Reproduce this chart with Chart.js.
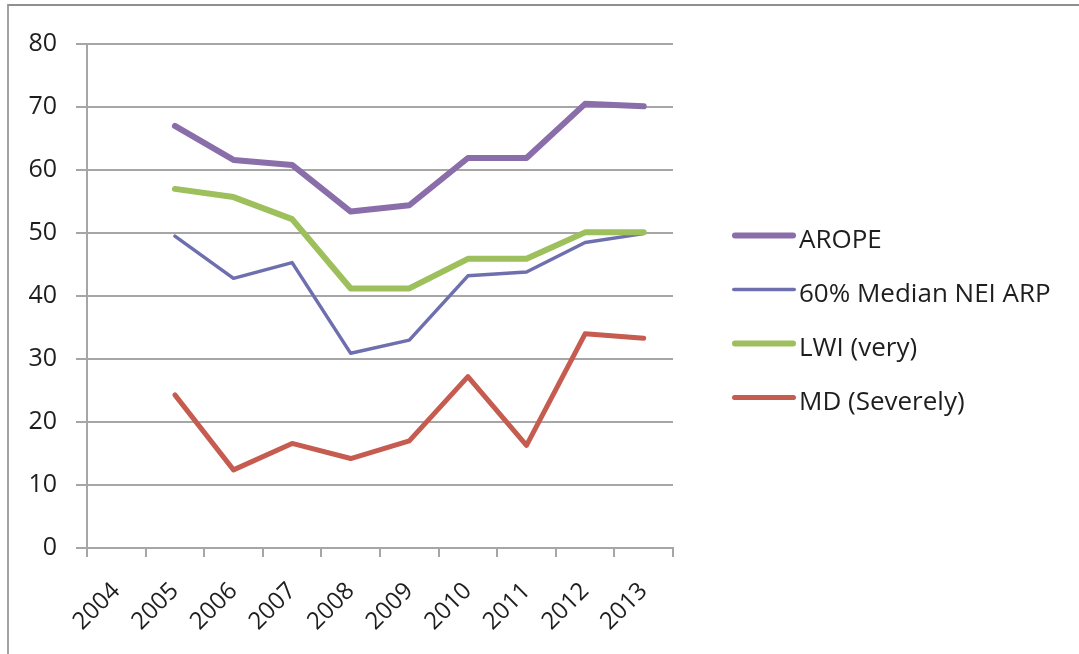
<!DOCTYPE html>
<html>
<head>
<meta charset="utf-8">
<script src="https://cdn.jsdelivr.net/npm/chart.js@4.4.1/dist/chart.umd.min.js"></script>
<style>
  html, body { margin: 0; padding: 0; background: #ffffff; overflow: hidden; }
  #frame {
    position: absolute; left: 7px; top: 4px; width: 1200px; height: 800px;
    border-top: 2px solid #8f8f8f; border-left: 2px solid #a3a3a3;
  }
  #wrap { position: absolute; left: 0; top: 0; width: 1079px; height: 654px; }
</style>
</head>
<body>
<div id="frame"></div>
<div id="wrap"><canvas id="chart" width="1079" height="654"></canvas></div>
<script>
// Years on the category axis (2004 has no observations)
const years = ['2004', '2005', '2006', '2007', '2008', '2009', '2010', '2011', '2012', '2013'];

// Series values, in %
const arope     = [null, 67.0, 61.6, 60.8, 53.4, 54.4, 61.9, 61.9, 70.5, 70.1];
const medianArp = [null, 49.5, 42.8, 45.3, 30.9, 33.0, 43.2, 43.8, 48.5, 49.9];
const lwiVery   = [null, 57.0, 55.7, 52.2, 41.2, 41.2, 45.9, 45.9, 50.1, 50.1];
const mdSevere  = [null, 24.3, 12.4, 16.6, 14.2, 17.0, 27.2, 16.3, 34.0, 33.3];

// Value axis ticks
const yTicks = [0, 10, 20, 30, 40, 50, 60, 70, 80];

const FONT = '"Open Sans", "DejaVu Sans", sans-serif';
const TEXT = '#1e1e1e';
const GRID = '#a6a6a6';

// Legend drawn to the right of the plot: a short line sample followed by the series name
const sideLegend = {
  id: 'sideLegend',
  afterDraw(chart) {
    const { ctx, chartArea } = chart;
    const sets = chart.data.datasets;
    const x0 = chartArea.right + 59;
    const sampleLen = 64;
    const rowGap = 54;
    const midY = (chartArea.top + chartArea.bottom) / 2 + 20.5;
    ctx.save();
    ctx.font = '26px ' + FONT;
    ctx.textBaseline = 'alphabetic';
    ctx.textAlign = 'left';
    sets.forEach((ds, i) => {
      const y = midY + (i - (sets.length - 1) / 2) * rowGap;
      ctx.beginPath();
      ctx.lineCap = 'round';
      ctx.strokeStyle = ds.borderColor;
      ctx.lineWidth = ds.borderWidth;
      ctx.moveTo(x0 + ds.borderWidth / 2, y);
      ctx.lineTo(x0 + sampleLen - ds.borderWidth / 2, y);
      ctx.stroke();
      ctx.fillStyle = TEXT;
      ctx.fillText(ds.label, x0 + sampleLen + 3, y + 12);
    });
    ctx.restore();
  }
};

function series(label, data, color, width, order) {
  return {
    label, data,
    borderColor: color,
    backgroundColor: color,
    borderWidth: width,
    borderCapStyle: 'round',
    borderJoinStyle: 'round',
    pointRadius: 0,
    pointHoverRadius: 0,
    tension: 0,
    spanGaps: false,
    order
  };
}

new Chart(document.getElementById('chart'), {
  type: 'line',
  data: {
    labels: years,
    datasets: [
      series('AROPE', arope, '#8a6eaa', 6, 3),
      series('60% Median NEI ARP', medianArp, '#6e6fae', 3.5, 2),
      series('LWI (very)', lwiVery, '#9dbf5c', 6, 1),
      series('MD (Severely)', mdSevere, '#c65b50', 5, 0)
    ]
  },
  options: {
    responsive: false,
    devicePixelRatio: 1,
    animation: false,
    layout: { padding: { left: 28, top: 44, right: 406, bottom: 0 } },
    plugins: {
      legend: { display: false },
      tooltip: { enabled: false }
    },
    scales: {
      x: {
        type: 'category',
        offset: true,
        afterFit(scale) {
          // rotated labels hang below the axis only; keep the plot edges fixed
          scale.paddingLeft = 0;
          scale.paddingRight = 0;
          scale.height = 106;
        },
        grid: {
          offset: true,
          drawOnChartArea: false,
          drawTicks: true,
          tickLength: 9,
          color: GRID,
          lineWidth: 2
        },
        border: { display: true, color: GRID, width: 2 },
        ticks: {
          autoSkip: false,
          maxRotation: 45,
          minRotation: 45,
          padding: 20,
          color: TEXT,
          font: { family: FONT, size: 24 }
        }
      },
      y: {
        min: 0,
        max: 80,
        afterBuildTicks(scale) {
          scale.ticks = yTicks.map(v => ({ value: v }));
        },
        afterFit(scale) {
          scale.width = 59;
        },
        grid: {
          color: GRID,
          lineWidth: 2,
          drawTicks: true,
          tickLength: 11
        },
        border: { display: true, color: GRID, width: 2 },
        ticks: {
          padding: 19,
          color: TEXT,
          font: { family: FONT, size: 25 }
        }
      }
    }
  },
  plugins: [sideLegend]
});
</script>
</body>
</html>
